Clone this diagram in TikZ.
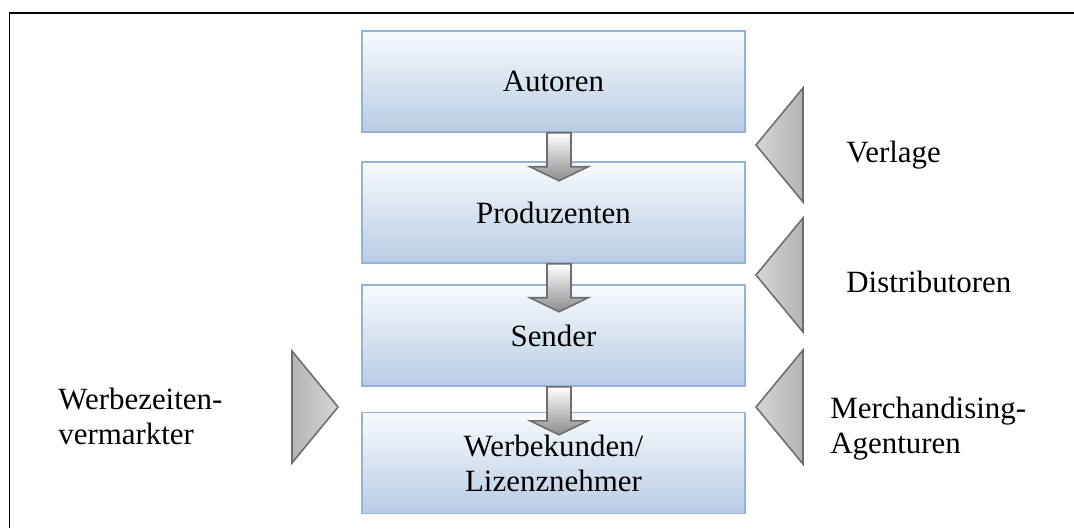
\documentclass[tikz,border=0pt]{standalone}
\usepackage{fontspec}
\setmainfont{Liberation Serif}
\usepackage{tikz}
\usepackage{xcolor}
\usetikzlibrary{calc}
\definecolor{BoxLine}{HTML}{95B3D7}
\definecolor{BoxTop}{HTML}{F8FAFD}
\definecolor{BoxBot}{HTML}{B8CCE4}
\definecolor{TriLine}{HTML}{6E6E6E}
\definecolor{TriLight}{HTML}{D6D6D6}
\definecolor{TriDark}{HTML}{B4B4B4}
\definecolor{ArrDark}{HTML}{8C8C8C}

\begin{document}
\begin{tikzpicture}[x=0.02cm,y=-0.02cm,
  every node/.style={font=\fontsize{17.6}{20}\selectfont,align=center},
  stage/.style={draw=BoxLine,line width=0.9pt,top color=BoxTop,bottom color=BoxBot,minimum width=7.66cm,minimum height=2.02cm,inner sep=0pt},
  role/.style={anchor=west,align=left,inner sep=0pt},
  tri/.style={draw=TriLine,line width=0.9pt,left color=TriLight,right color=TriDark,line join=miter},
  flow/.style={draw=TriLine,line width=0.9pt,top color=white,bottom color=ArrDark}]
  \useasboundingbox (0,0) rectangle (1074,528);
  \draw[line width=0.04cm] (1074,13) -- (9.5,13) -- (9.5,528);
  % value chain
  \node[stage] (aut) at (553.5,81.5) {Autoren};
  \node[stage] (prod) at (553.5,212.5) {Produzenten};
  \node[stage] (send) at (553.5,335.5) {Sender};
  \node[stage] (werb) at (553.5,463) {Werbekunden/\\Lizenznehmer};
  \foreach \u in {aut,prod,send}
    \shade[flow] ($(\u.south)+(-6.5,0)$) -- ++(24,0) -- ++(0,34) -- ++(17,0) -- ++(-29,14) -- ++(-29,-14) -- ++(17,0) -- cycle;
  % intermediaries
  \foreach \y in {145,275,407}
    \shade[tri] (803,\y-57) -- (756,\y) -- (803,\y+57) -- cycle;
  \shade[tri,left color=TriDark,right color=TriLight] (292,351) -- (338,407) -- (292,463) -- cycle;
  \node[role] (verl) at (846,155) {Verlage};
  \node[role] (dist) at (846,282) {Distributoren};
  \node[role] (merch) at (830,429) {Merchandising-\\Agenturen};
  \node[role] (verm) at (58,416) {Werbezeiten-\\vermarkter};
\end{tikzpicture}
\end{document}
